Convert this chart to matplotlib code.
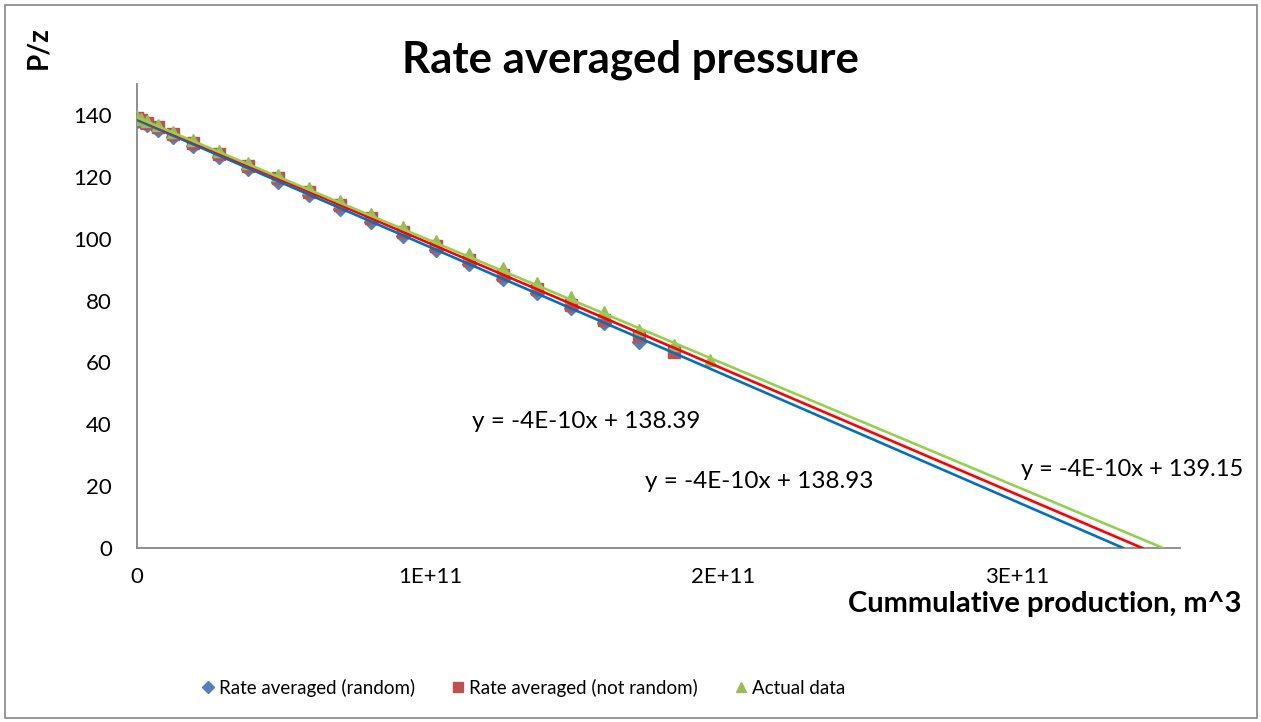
import matplotlib
matplotlib.use("Agg")
import matplotlib.pyplot as plt
from matplotlib.patches import Rectangle
from matplotlib.lines import Line2D
import numpy as np

plt.rcParams['font.family'] = ['Lato', 'DejaVu Sans']

# Cumulative production (m^3)
x_random = np.array([0, 1.5, 3.4, 7.2, 12.3, 19.1, 28.0, 37.9, 48.1, 58.7, 69.2, 79.8,
                     90.7, 102.0, 113.2, 124.8, 136.4, 148.0, 159.3, 171.2]) * 1e9
y_random = [138.2, 137.6, 136.6, 135.0, 133.0, 130.0, 126.4, 122.6, 118.3, 114.0, 109.7, 105.4,
            101.0, 96.3, 91.7, 87.0, 82.3, 77.5, 72.6, 66.6]

x_notrandom = np.array([0, 1.5, 3.4, 7.2, 12.3, 19.1, 28.0, 37.9, 48.1, 58.7, 69.2, 79.8,
                        90.7, 102.0, 113.2, 124.8, 136.4, 148.0, 159.3, 171.2, 183.1]) * 1e9
y_notrandom = [138.9, 138.4, 137.5, 136.0, 133.7, 131.0, 127.4, 123.5, 119.5, 115.2, 111.0, 106.6,
               102.2, 97.7, 93.1, 88.4, 83.6, 78.7, 73.8, 68.4, 63.4]

x_actual = np.array([0, 1.5, 3.4, 7.2, 12.3, 19.1, 28.0, 37.9, 48.1, 58.7, 69.2, 79.8,
                     90.7, 102.0, 113.2, 124.8, 136.4, 148.0, 159.3, 171.2, 183.1, 195.4]) * 1e9
y_actual = [139.2, 138.8, 138.0, 136.6, 134.5, 131.8, 128.4, 124.6, 120.6, 116.4, 112.3, 108.1,
            103.8, 99.4, 95.0, 90.4, 85.8, 81.1, 76.4, 70.5, 65.6, 60.8]

# Linear trendlines (slope per m^3, intercept)
trend_slopes = [-4.116e-10, -4.054e-10, -3.978e-10]
trend_intercepts = [138.39, 138.93, 139.15]
trend_colors = ['#0070C0', '#FF0000', '#92D050']
trend_labels = ['y = -4E-10x + 138.39', 'y = -4E-10x + 138.93', 'y = -4E-10x + 139.15']

series_labels = ['Rate averaged (random)', 'Rate averaged (not random)', 'Actual data']
marker_colors = ['#4F81BD', '#C0504D', '#9BBB59']

W, H = 1261, 722
fig = plt.figure(figsize=(W / 100, H / 100), dpi=100)
fig.patches.append(Rectangle((4.5 / W, 4.5 / H), (W - 9) / W, (H - 9) / H,
                             transform=fig.transFigure, fill=False,
                             edgecolor='#868686', linewidth=1.2))

def px(x, y):
    return (x / W, 1 - y / H)

ax = fig.add_axes([137 / W, 1 - 548 / H, (1180 - 137) / W, (548 - 84) / H])
ax.set_xlim(0, 3.556e11)
ax.set_ylim(0, 150)

ax.plot(x_random, y_random, linestyle='none', marker='D', markersize=7,
        color=marker_colors[0], zorder=3)
ax.plot(x_notrandom, y_notrandom, linestyle='none', marker='s', markersize=8,
        color=marker_colors[1], zorder=4)
ax.plot(x_actual, y_actual, linestyle='none', marker='^', markersize=9,
        color=marker_colors[2], zorder=5)

for s, b, c in zip(trend_slopes, trend_intercepts, trend_colors):
    xe = -b / s
    ax.plot([0, xe], [b, 0], color=c, linewidth=1.9, zorder=6)

ax.set_xticks([0, 1e11, 2e11, 3e11])
ax.set_xticklabels(['0', '1E+11', '2E+11', '3E+11'])
ax.set_yticks(range(0, 141, 20))
ax.tick_params(length=0, labelsize=16)
ax.tick_params(axis='y', pad=18)
ax.tick_params(axis='x', pad=14)
for sp in ['top', 'right']:
    ax.spines[sp].set_visible(False)
for sp in ['left', 'bottom']:
    ax.spines[sp].set_color('#868686')
    ax.spines[sp].set_linewidth(1.3)

# Trendline equations
fig.text(*px(472, 422), trend_labels[0], fontsize=17.5, va='center', ha='left')
fig.text(*px(645, 481), trend_labels[1], fontsize=17.5, va='center', ha='left')
fig.text(*px(1243, 470), trend_labels[2], fontsize=17, va='center', ha='right')

fig.text(*px(630, 60), 'Rate averaged pressure', fontsize=31.5, fontweight='bold',
         ha='center', va='center')
fig.text(*px(38, 48), 'P/z', fontsize=20, fontweight='bold', rotation=90,
         ha='center', va='center')
fig.text(*px(1241, 604), 'Cummulative production, m^3', fontsize=21, fontweight='bold',
         ha='right', va='center')

handles = [Line2D([], [], linestyle='none', marker=m, color=c, markersize=ms)
           for m, c, ms in zip(['D', 's', '^'], marker_colors, [6, 7, 7.5])]
fig.legend(handles, series_labels, loc='center', bbox_to_anchor=px(522, 688),
           ncol=3, frameon=False, fontsize=13.5, handletextpad=0.1,
           columnspacing=1.8, handlelength=1.0)

fig.savefig('out.png', dpi=100)
